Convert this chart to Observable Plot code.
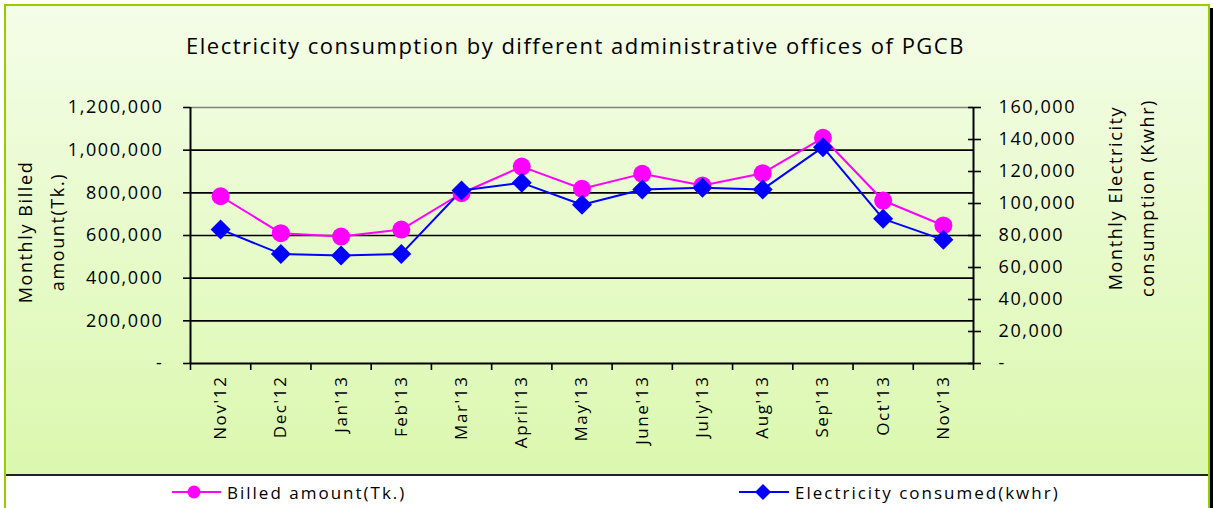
<!DOCTYPE html>
<html><head><meta charset="utf-8">
<script src="https://cdn.jsdelivr.net/npm/d3@7"></script>
<script src="https://cdn.jsdelivr.net/npm/@observablehq/plot@0.6"></script>
<style>
body{margin:0;background:#fff;}
#wrap{position:relative;width:1213px;height:508px;overflow:hidden;font-family:"Open Sans",sans-serif;color:#000;}
#frame{position:absolute;left:4px;top:4px;width:1202px;height:510px;border-left:2px solid #99cc00;border-right:2px solid #99cc00;border-top:2px solid #99cc00;background:#fff;}
#grad{position:absolute;left:6px;top:6px;width:1202px;height:468px;background:linear-gradient(#f4fde8,#dbf8ae);}
#sep{position:absolute;left:6px;top:474px;width:1202px;height:2px;background:#222;}
#shadow{position:absolute;left:1210px;top:8px;width:3px;height:500px;background:#000;}
#chart{position:absolute;left:0;top:0;}
#title{position:absolute;left:0;top:33px;width:1151px;text-align:center;font-size:22px;line-height:24px;letter-spacing:1.5px;white-space:nowrap;}
.ylab{position:absolute;text-align:center;font-size:18px;line-height:32px;letter-spacing:1.6px;transform:rotate(-90deg);white-space:nowrap;}
.leg{position:absolute;top:480px;height:24px;display:flex;align-items:center;font-size:17px;letter-spacing:2px;white-space:nowrap;}
.leg svg{margin-right:6px;}
</style>
</head><body>
<div id="wrap">
  <div id="frame"></div>
  <div id="grad"></div>
  <div id="sep"></div>
  <div id="shadow"></div>
  <div id="chart"></div>
  <div id="title">Electricity consumption by different administrative offices of PGCB</div>
  <div class="ylab" style="left:-54px;top:200px;width:190px;height:64px;">Monthly Billed<br>amount(Tk.)</div>
  <div class="ylab" style="left:1006px;top:166px;width:250px;height:64px;">Monthly Electricity<br>consumption (Kwhr)</div>
  <div class="leg" style="left:172px;"><svg width="49" height="16"><line x1="0" y1="8" x2="49" y2="8" stroke="#ff00ff" stroke-width="2"/><circle cx="22" cy="8" r="6.5" fill="#ff00ff"/></svg>Billed amount(Tk.)</div>
  <div class="leg" style="left:739px;"><svg width="50" height="18"><line x1="0" y1="9" x2="50" y2="9" stroke="#0000ff" stroke-width="2"/><path d="M24,1L32,9L24,17L16,9Z" fill="#0000ff"/></svg>Electricity consumed(kwhr)</div>
</div>
<script>
const months = ["Nov'12","Dec'12","Jan'13","Feb'13","Mar'13","April'13","May'13","June'13","July'13","Aug'13","Sep'13","Oct'13","Nov'13"];
const billed = [784000, 611000, 595000, 628000, 798000, 923000, 819000, 889000, 834000, 892000, 1058000, 764000, 647000];
const kwh = [83800, 68500, 67500, 68500, 108100, 112900, 99200, 108800, 109800, 108800, 135200, 90400, 77300];
const leftTicks = [0, 200000, 400000, 600000, 800000, 1000000, 1200000];
const rightTicks = [0, 20000, 40000, 60000, 80000, 100000, 120000, 140000, 160000];

const ratio = 1200000 / 160000;
const data = months.map((m, i) => ({month: m, pos: i + 0.5, billed: billed[i], kwh: kwh[i]}));
const fmt = d3.format(",");
const zfmt = d => d === 0 ? "-" : fmt(d);

const chart = Plot.plot({
  width: 1213,
  height: 475,
  marginLeft: 190,
  marginRight: 240,
  marginTop: 107,
  marginBottom: 112,
  style: {background: "transparent", fontFamily: "'Open Sans', sans-serif", color: "#000", letterSpacing: "1.6px"},
  x: {type: "linear", domain: [0, months.length]},
  y: {domain: [0, 1200000]},
  marks: [
    Plot.ruleY(leftTicks.slice(1, -1), {stroke: "#000", strokeWidth: 1.6}),
    Plot.ruleY([leftTicks[leftTicks.length - 1]], {stroke: "#808080", strokeWidth: 1.6}),
    Plot.ruleY([0], {stroke: "#000", strokeWidth: 2}),
    Plot.ruleX([0, months.length], {stroke: "#000", strokeWidth: 2}),
    Plot.axisY(leftTicks, {anchor: "left", tickSize: 7, tickPadding: 20, tickFormat: zfmt, fontSize: 18, strokeWidth: 1.6, label: null}),
    Plot.axisY(rightTicks.map(d => d * ratio), {anchor: "right", tickSize: 13, dx: -6, tickPadding: 18, tickFormat: d => zfmt(Math.round(d / ratio)), fontSize: 18, strokeWidth: 1.6, label: null}),
    Plot.axisX(d3.range(0, months.length + 1), {anchor: "bottom", tickSize: 7, tickFormat: () => "", strokeWidth: 1.6, label: null}),
    Plot.axisX(data.map(d => d.pos), {anchor: "bottom", tickSize: 0, tickPadding: 12, tickRotate: -90, tickFormat: (d, i) => months[i], fontSize: 17, label: null}),
    Plot.line(data, {x: "pos", y: "billed", stroke: "#ff00ff", strokeWidth: 2}),
    Plot.line(data, {x: "pos", y: d => d.kwh * ratio, stroke: "#0000ff", strokeWidth: 2}),
    Plot.dot(data, {x: "pos", y: "billed", r: 9, fill: "#ff00ff", stroke: "none"}),
    Plot.dot(data, {x: "pos", y: d => d.kwh * ratio, r: 9, symbol: "diamond2", fill: "#0000ff", stroke: "none"})
  ]
});
document.getElementById("chart").appendChild(chart);
</script>
</body></html>
